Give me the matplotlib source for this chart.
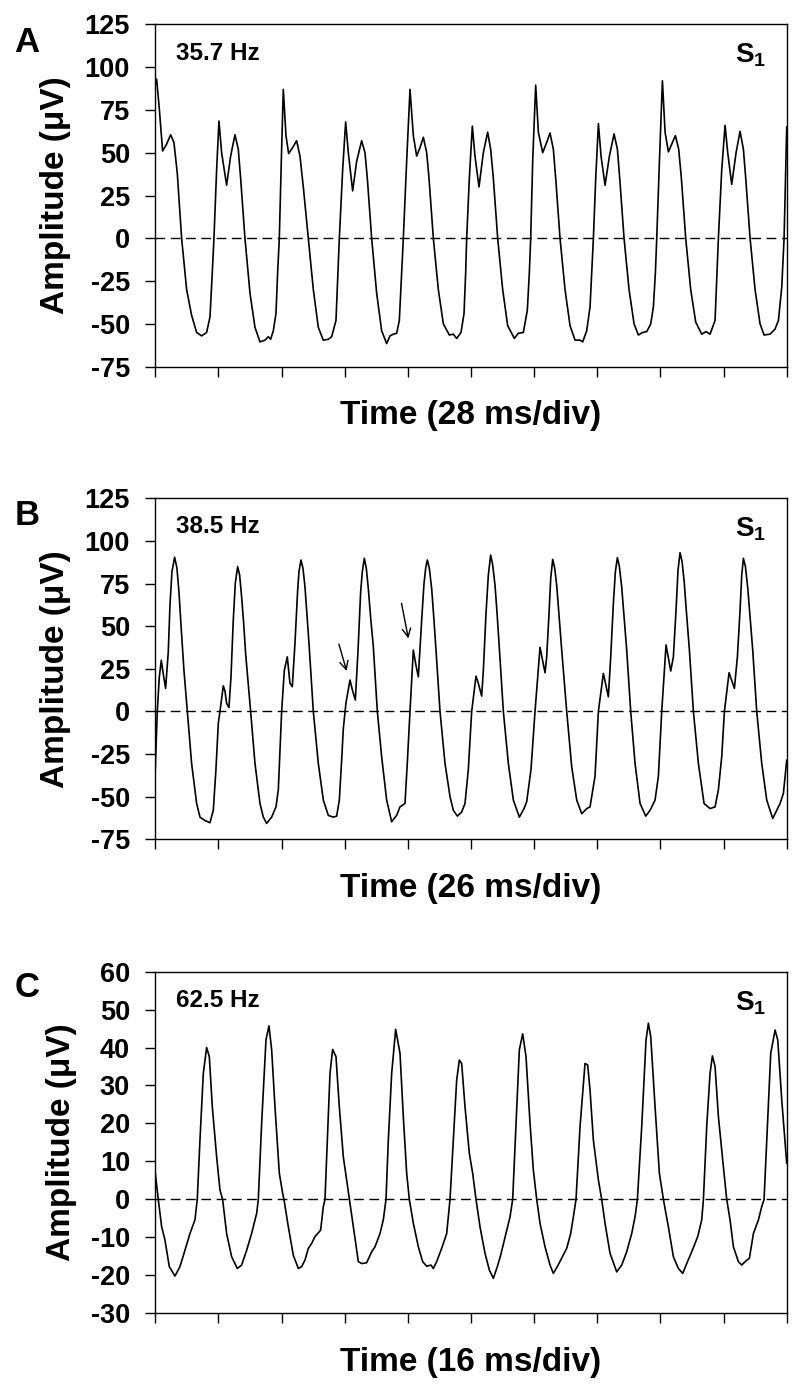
import matplotlib
matplotlib.use("Agg")
import matplotlib.pyplot as plt
import numpy as np

plt.rcParams['font.family'] = ['Liberation Sans', 'DejaVu Sans']
plt.rcParams['font.weight'] = 'bold'
plt.rcParams['axes.unicode_minus'] = False
plt.rcParams['mathtext.fontset'] = 'custom'
plt.rcParams['mathtext.rm'] = 'Liberation Sans'
plt.rcParams['mathtext.bf'] = 'Liberation Sans:bold'

# ---- data (time in ms, amplitude in uV) ----
A_TRACE = [
    (0, 90), (0.59, 93), (1.77, 76), (3.25, 51), (5.03, 55), (6.80, 60.5), (8.28, 56), (9.76, 38),
    (11.68, 0), (13.90, -30), (16.11, -45), (18.33, -55), (20.55, -57), (22.77, -55), (24.25, -46),
    (25.28, -20), (26.02, 0), (27.20, 40), (28.24, 68.5), (29.42, 50), (31.63, 31), (33.41, 48),
    (35.33, 60.5), (36.81, 52), (37.85, 35), (39.77, 0), (41.99, -32), (44.20, -52), (46.42, -60.5),
    (48.64, -59.5), (50.12, -57.5), (51.15, -59), (52.34, -54), (53.52, -44), (54.26, -20), (55.00, 0),
    (55.88, 45), (56.77, 87), (57.95, 60), (59.13, 49.5), (60.91, 53), (62.68, 57), (64.16, 48),
    (65.64, 30), (67.86, 0), (70.08, -30), (72.29, -52), (74.51, -59.5), (76.73, -59), (78.21, -57.5),
    (80.13, -48), (81.02, -20), (81.61, 0), (83.09, 40), (84.42, 68), (85.60, 50), (87.52, 27.7),
    (89.30, 45), (91.51, 57), (92.99, 50), (94.03, 35), (95.95, 0), (98.16, -32), (100.38, -54),
    (102.60, -61.5), (104.08, -57), (105.56, -56), (107.04, -55.5), (108.22, -48), (109.25, -20),
    (109.99, 0), (111.47, 45), (112.95, 87), (114.43, 60), (115.91, 48), (117.39, 53), (118.87, 59),
    (120.35, 50), (121.38, 35), (123.30, 0), (125.52, -30), (127.74, -50), (130.40, -56.5),
    (132.17, -56), (133.65, -58.5), (135.57, -55), (136.90, -44), (137.64, -20), (138.08, 0),
    (139.26, 35), (140.59, 65.5), (141.77, 48), (143.55, 30), (145.47, 50), (147.39, 62), (148.72, 52),
    (149.91, 35), (151.83, 0), (154.05, -30), (156.26, -51), (159.22, -58.5), (160.99, -55.5),
    (163.21, -55), (164.98, -42), (165.87, -20), (166.47, 0), (167.35, 45), (168.68, 89.5),
    (169.87, 62), (171.79, 50), (173.56, 56), (175.04, 61.5), (176.52, 52), (177.56, 35), (179.48, 0),
    (181.70, -30), (183.91, -51), (186.13, -59.5), (188.35, -59.5), (189.53, -60.5), (191.31, -54),
    (192.79, -40), (193.53, -20), (194.27, 0), (195.30, 35), (196.49, 67), (197.67, 48), (199.44, 31),
    (201.37, 48), (203.44, 61), (204.92, 52), (205.95, 35), (207.87, 0), (210.09, -30), (212.31, -50),
    (214.23, -56.5), (216.15, -55), (217.93, -54.5), (219.70, -50), (220.88, -40), (221.77, -20),
    (222.36, 0), (223.55, 45), (224.88, 92), (226.06, 62), (227.54, 50.5), (229.02, 55), (230.63, 60),
    (232.11, 52), (233.29, 35), (235.21, 0), (237.43, -30), (239.65, -49), (242.31, -56),
    (244.23, -54.5), (246.01, -56), (248.22, -48), (249.11, -20), (249.70, 0), (251.18, 40),
    (252.66, 66), (253.84, 50), (255.61, 31.5), (257.54, 50), (259.31, 62.5), (260.79, 52),
    (261.83, 35), (263.75, 0), (265.97, -30), (268.18, -50), (269.96, -56.5), (272.62, -56),
    (274.84, -53), (276.32, -48), (277.80, -28.5), (278.83, 0), (280.0, 65),
]

B_TRACE = [
    (0, -34), (0.82, 0), (1.65, 20), (2.47, 30), (3.29, 22), (4.26, 13.5), (5.35, 35), (6.04, 62),
    (6.86, 82), (7.96, 90.4), (8.92, 84), (9.75, 70), (10.71, 48), (11.81, 24), (13.18, 0),
    (14.96, -30.5), (17.02, -54), (18.40, -62), (20.45, -64), (22.51, -65.3), (23.89, -58),
    (24.98, -34), (25.95, -7), (26.63, 0), (28.01, 15), (28.69, 12), (29.38, 4.7), (30.34, 2.3),
    (31.16, 20), (32.12, 53.6), (32.94, 75), (33.91, 85), (34.73, 80), (35.56, 67), (36.38, 52),
    (37.20, 34), (39.26, 0), (41.05, -30.5), (43.11, -54), (44.48, -62), (45.85, -65.7), (47.91, -62),
    (49.70, -56), (50.66, -46), (52.03, 0), (53.13, 24), (54.36, 32), (55.46, 16.4), (56.42, 14.5),
    (57.52, 40), (58.62, 71), (59.17, 82), (59.99, 88.8), (60.81, 84), (61.64, 73), (62.46, 57),
    (63.29, 40), (65.07, 0), (67.13, -30.5), (69.19, -52), (71.25, -61), (73.31, -62), (74.68, -61.4),
    (75.78, -52), (76.74, -28.6), (77.43, -10), (78.52, 5), (80.17, 18.4), (81.27, 12), (82.37, 6.7),
    (83.46, 35), (84.56, 70), (85.25, 82), (86.07, 89.8), (86.89, 84), (87.72, 72), (88.68, 55),
    (89.78, 38), (91.43, 0), (93.21, -26.6), (95.27, -52), (97.33, -64.7), (99.39, -61),
    (100.76, -56), (102.82, -54), (103.78, -30), (104.88, 0), (106.25, 36), (107.21, 28),
    (108.31, 20.3), (109.69, 53.6), (110.65, 75), (111.34, 84), (112.02, 88.8), (112.84, 84),
    (113.81, 72), (114.63, 56), (115.59, 36), (117.24, 0), (119.30, -30.5), (121.36, -50),
    (122.73, -58), (124.38, -61.4), (126.16, -59), (127.53, -54), (128.90, -34), (130.28, 0),
    (132.06, 20.7), (133.03, 16.4), (134.40, 9), (135.08, 24), (136.18, 57.5), (137.14, 80),
    (138.10, 91.7), (138.92, 86), (139.89, 74), (140.71, 58), (141.54, 40), (143.32, 0),
    (145.38, -30.5), (147.44, -52), (149.91, -62), (151.83, -57), (152.93, -53), (154.71, -34),
    (156.36, 0), (158.42, 37.6), (160.48, 22.7), (161.17, 32), (162.13, 57.5), (162.82, 78),
    (163.64, 89.2), (164.47, 84), (165.29, 74), (166.25, 56), (167.35, 36), (169.41, 0),
    (171.47, -32.5), (173.53, -52), (175.59, -60), (177.64, -57), (179.01, -56), (181.07, -38),
    (182.45, 0), (184.50, 22.3), (186.56, 8.6), (187.53, 32), (188.62, 63.4), (189.45, 82),
    (190.27, 90.2), (191.09, 85), (192.05, 73), (193.01, 56), (194.11, 36), (195.76, 0),
    (197.55, -30.5), (199.61, -54), (201.94, -61.4), (203.73, -58), (205.79, -52), (207.16, -38),
    (208.53, 0), (210.31, 39), (212.24, 23.7), (213.33, 32), (214.43, 59.5), (215.25, 83),
    (216.08, 93.1), (216.90, 88), (217.73, 77), (218.83, 56), (219.93, 36), (221.57, 0),
    (223.63, -30.5), (225.96, -54), (228.43, -57), (230.49, -56), (231.86, -46), (233.24, -26.6),
    (234.34, 0), (236.26, 22.7), (238.46, 13.5), (239.69, 32), (240.79, 59.5), (241.48, 80),
    (242.16, 89.8), (243.00, 85), (243.98, 72), (244.94, 55), (246.00, 36), (247.65, 0),
    (249.71, -30.5), (251.77, -52), (254.24, -62.8), (255.89, -58), (257.26, -54), (258.64, -48),
    (260.0, -28.6),
]

C_TRACE = [
    (0, 6.9), (0.76, 0), (1.61, -7.2), (2.45, -10.7), (3.55, -17.7), (4.98, -20.2), (6.25, -17.7),
    (7.52, -13.4), (8.79, -9), (10.05, -5.4), (10.64, 0), (11.32, 15.6), (12.17, 33.2), (13.01, 40),
    (13.69, 37.6), (14.45, 24.4), (15.55, 11.2), (16.39, 2.5), (17.06, 0), (18.08, -9), (19.35, -15.1),
    (20.78, -18.2), (21.88, -17.3), (23.15, -13.4), (24.41, -9), (25.68, -3.7), (26.11, 0),
    (26.95, 20), (28.05, 42), (28.81, 45.7), (29.49, 39.4), (30.33, 24.4), (31.43, 6.9), (32.27, 1.6),
    (32.61, 0), (33.71, -7.2), (34.97, -14.7), (36.24, -18.2), (37.09, -17.7), (37.93, -16),
    (38.78, -12.9), (39.62, -11.6), (40.47, -9.8), (41.90, -8.1), (42.58, -1.9), (43.00, 0),
    (43.59, 15.6), (44.27, 33.2), (44.94, 39.5), (45.79, 37.6), (46.63, 24.4), (47.65, 11.2),
    (48.49, 5.1), (49.17, 0), (50.18, -7.2), (51.45, -16.4), (52.29, -16.9), (53.56, -16.7),
    (54.83, -13.8), (55.67, -12.5), (56.94, -9), (57.78, -5.4), (58.46, 0), (59.05, 15.6),
    (59.90, 33.2), (60.91, 44.8), (62.01, 38.5), (62.85, 21.8), (63.70, 6.9), (64.37, 0),
    (65.39, -6.3), (66.66, -12.5), (67.75, -16.4), (68.77, -17.6), (69.86, -17.3), (70.46, -18.2),
    (71.30, -16.4), (72.57, -12.9), (73.84, -9), (74.68, 0), (75.53, 15.6), (76.37, 31.4),
    (77.05, 36.7), (77.64, 35.8), (78.48, 24.4), (79.58, 12.1), (80.42, 6.9), (81.27, 0),
    (82.28, -7.2), (83.55, -14.2), (84.65, -18.6), (85.66, -20.8), (86.68, -17.7), (87.52, -14.7),
    (88.87, -9), (89.89, -4.6), (90.56, 0), (91.41, 20), (92.25, 39.4), (93.10, 43.6), (93.94, 37.6),
    (94.96, 20), (95.80, 7.7), (96.65, 0), (97.49, -6.3), (98.76, -12.5), (100.03, -17.3),
    (100.87, -19.5), (101.88, -17.7), (102.98, -15.5), (104.25, -12.9), (105.26, -9), (105.94, -4.6),
    (106.61, 0), (107.63, 19.2), (108.89, 35.8), (109.57, 35.4), (110.16, 28.8), (111.01, 15.6),
    (112.28, 5.1), (113.12, 0), (113.96, -6.3), (115.23, -14.2), (116.92, -19.1), (118.19, -17.3),
    (119.45, -13.8), (120.72, -9), (121.57, -4.6), (122.16, 0), (123.26, 19.2), (124.35, 42),
    (124.95, 46.4), (125.54, 42.9), (126.64, 24.4), (127.73, 6.9), (128.75, 0), (130.01, -7.2),
    (131.28, -15.1), (132.55, -18.2), (133.65, -19.5), (134.66, -16.9), (135.93, -13.8),
    (137.45, -9.8), (138.46, -5.4), (138.89, 0), (139.73, 19.2), (140.57, 33.2), (141.17, 37.8),
    (141.84, 35), (142.69, 21.8), (143.95, 8.6), (144.80, 0), (145.64, -5.4), (146.49, -12.5),
    (147.76, -16.4), (148.60, -17.3), (149.45, -16.4), (150.54, -15.5), (151.56, -9), (152.83, -5.4),
    (153.67, -1.9), (154.26, 0), (154.94, 15.6), (155.95, 38.5), (157.05, 44.6), (157.73, 42),
    (158.74, 26.2), (160.0, 9.5),
]

PANEL_LETTERS = ['A', 'B', 'C']
RATES = ['35.7 Hz', '38.5 Hz', '62.5 Hz']
MS_PER_DIV = [28, 26, 16]
Y_TICKS = [[-75, -50, -25, 0, 25, 50, 75, 100, 125],
           [-75, -50, -25, 0, 25, 50, 75, 100, 125],
           [-30, -20, -10, 0, 10, 20, 30, 40, 50, 60]]
# arrows in panel B: (tail time, tail amp, head time, head amp)
B_ARROWS = [(75.6, 39.5, 78.8, 23.7), (101.4, 63.4, 104.2, 42.8)]

fig = plt.figure(figsize=(8, 13.9), dpi=100)

# axes boxes in figure fractions (left, bottom, width, height)
boxes = [(0.1941, 0.7362, 0.7893, 0.2463),
         (0.1941, 0.3962, 0.7893, 0.2453),
         (0.1941, 0.0552, 0.7893, 0.2458)]
letter_y = [0.9626, 0.6223, 0.2827]

for i, trace in enumerate([A_TRACE, B_TRACE, C_TRACE]):
    ax = fig.add_axes(boxes[i])
    t = np.array([p[0] for p in trace])
    v = np.array([p[1] for p in trace])
    div = MS_PER_DIV[i]

    ax.plot(t, v, color='black', lw=1.2, solid_joinstyle='round')
    ax.axhline(0, color='black', lw=1.0, ls=(0, (7, 4)))

    ax.set_xlim(0, 10 * div)
    ax.set_ylim(Y_TICKS[i][0], Y_TICKS[i][-1])
    ax.set_xticks(np.arange(0, 10 * div + 1, div))
    ax.set_xticklabels([])
    ax.set_yticks(Y_TICKS[i])
    ax.tick_params(axis='both', direction='out', length=7.2, width=1.0, labelsize=19.5, pad=11)
    for s in ax.spines.values():
        s.set_linewidth(1.0)

    ax.set_ylabel('Amplitude (\u03bcV)', fontsize=24, fontweight='bold', labelpad=10)
    ax.set_xlabel('Time (%d ms/div)' % div, fontsize=24, fontweight='bold', labelpad=6)

    ax.text(0.033, 0.897, RATES[i], transform=ax.transAxes, fontsize=17.5,
            fontweight='bold', ha='left', va='baseline')
    ax.text(0.918, 0.888, r'$\mathbf{S}_{\mathrm{1}}$', transform=ax.transAxes,
            fontsize=20, ha='left', va='baseline')

    fig.text(0.018, letter_y[i], PANEL_LETTERS[i], fontsize=25, fontweight='bold',
             ha='left', va='baseline')

    if i == 1:
        for x0, y0, x1, y1 in B_ARROWS:
            ax.annotate('', xy=(x1, y1), xytext=(x0, y0),
                        arrowprops=dict(arrowstyle='->,head_length=0.6,head_width=0.3',
                                        lw=1.0, color='black', shrinkA=0, shrinkB=0))

fig.savefig('out.png', dpi=100)
